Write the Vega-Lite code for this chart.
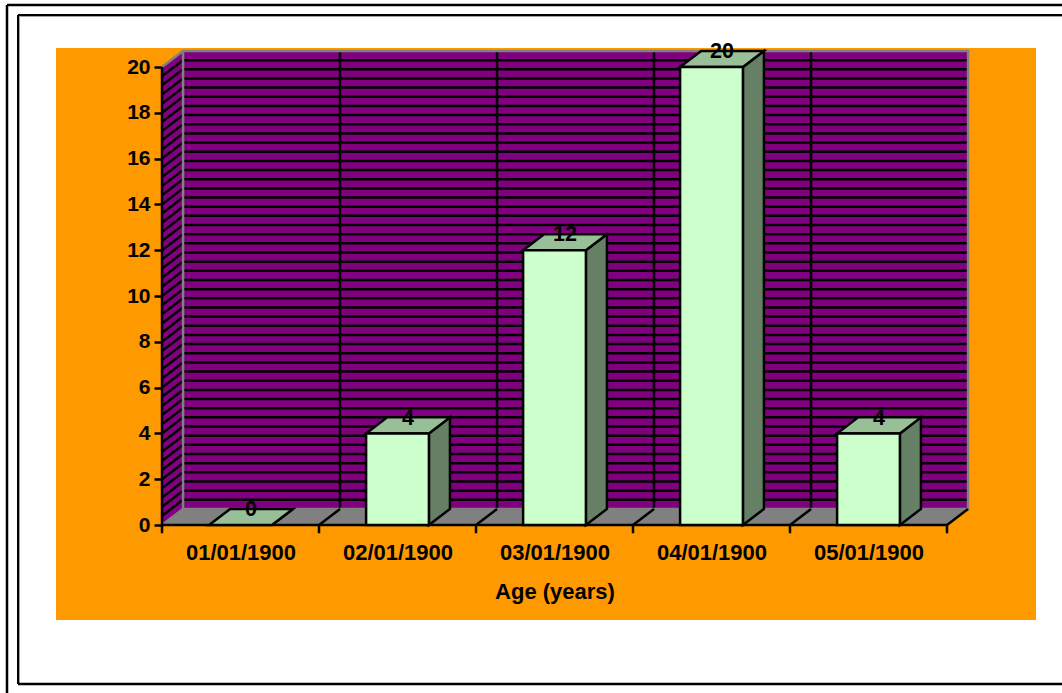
{
  "$schema": "https://vega.github.io/schema/vega-lite/v6.json",
  "width": 980,
  "height": 572,
  "autosize": "none",
  "padding": {"left": 56, "top": 48, "right": 26, "bottom": 73},
  "background": "#FFFFFF",
  "config": {"view": {"fill": "#FF9900", "stroke": null}},
  "datasets": {
    "bars": [
      {"category": "01/01/1900", "idx": 0, "count": 0},
      {"category": "02/01/1900", "idx": 1, "count": 4},
      {"category": "03/01/1900", "idx": 2, "count": 12},
      {"category": "04/01/1900", "idx": 3, "count": 20},
      {"category": "05/01/1900", "idx": 4, "count": 4}
    ],
    "boundaries": [{"b": 0}, {"b": 1}, {"b": 2}, {"b": 3}, {"b": 4}, {"b": 5}],
    "innerBoundaries": [{"b": 1}, {"b": 2}, {"b": 3}, {"b": 4}],
    "depthEnds": [{"s": 0}, {"s": 1}],
    "levels": [
      {"v": 0.4}, {"v": 0.8}, {"v": 1.2}, {"v": 1.6}, {"v": 2.0}, {"v": 2.4}, {"v": 2.8}, {"v": 3.2}, {"v": 3.6}, {"v": 4.0},
      {"v": 4.4}, {"v": 4.8}, {"v": 5.2}, {"v": 5.6}, {"v": 6.0}, {"v": 6.4}, {"v": 6.8}, {"v": 7.2}, {"v": 7.6}, {"v": 8.0},
      {"v": 8.4}, {"v": 8.8}, {"v": 9.2}, {"v": 9.6}, {"v": 10.0}, {"v": 10.4}, {"v": 10.8}, {"v": 11.2}, {"v": 11.6}, {"v": 12.0},
      {"v": 12.4}, {"v": 12.8}, {"v": 13.2}, {"v": 13.6}, {"v": 14.0}, {"v": 14.4}, {"v": 14.8}, {"v": 15.2}, {"v": 15.6}, {"v": 16.0},
      {"v": 16.4}, {"v": 16.8}, {"v": 17.2}, {"v": 17.6}, {"v": 18.0}, {"v": 18.4}, {"v": 18.8}, {"v": 19.2}, {"v": 19.6}
    ]
  },
  "layer": [
    {
      "description": "Left side wall of the chart box",
      "data": {"name": "depthEnds"},
      "transform": [
        {"calculate": "datum.s * 0.134", "as": "x"},
        {"calculate": "datum.s * 0.7", "as": "lo"},
        {"calculate": "20 + datum.s * 0.7", "as": "hi"}
      ],
      "mark": {"type": "area", "orient": "vertical", "fill": "#800080"},
      "encoding": {
        "x": {"field": "x", "type": "quantitative", "scale": {"domain": [-0.6752, 5.5669]}},
        "y": {"field": "lo", "type": "quantitative", "scale": {"domain": [-4.1485, 20.83]}},
        "y2": {"field": "hi"}
      }
    },
    {
      "description": "Floor of the chart box",
      "data": {"name": "depthEnds"},
      "transform": [
        {"calculate": "datum.s * 0.134", "as": "x"},
        {"calculate": "5 + datum.s * 0.134", "as": "xEnd"},
        {"calculate": "datum.s * 0.7", "as": "y"}
      ],
      "mark": {"type": "area", "orient": "horizontal", "fill": "#808080"},
      "encoding": {
        "y": {"field": "y", "type": "quantitative", "scale": {"domain": [-4.1485, 20.83]}},
        "x": {"field": "x", "type": "quantitative", "scale": {"domain": [-0.6752, 5.5669]}},
        "x2": {"field": "xEnd"}
      }
    },
    {
      "description": "Back wall",
      "data": {"values": [{}]},
      "mark": {"type": "rect", "fill": "#800080"},
      "encoding": {
        "x": {"datum": 0.134, "type": "quantitative", "scale": {"domain": [-0.6752, 5.5669]}},
        "x2": {"datum": 5.134},
        "y": {"datum": 0.7, "type": "quantitative", "scale": {"domain": [-4.1485, 20.83]}},
        "y2": {"datum": 20.7}
      }
    },
    {
      "description": "Horizontal gridlines on the back wall",
      "data": {"name": "levels"},
      "transform": [{"calculate": "datum.v + 0.7", "as": "wallY"}],
      "mark": {"type": "rule", "color": "#000000", "strokeWidth": 2.5},
      "encoding": {
        "x": {"datum": 0.134, "type": "quantitative", "scale": {"domain": [-0.6752, 5.5669]}},
        "x2": {"datum": 5.134},
        "y": {"field": "wallY", "type": "quantitative", "scale": {"domain": [-4.1485, 20.83]}}
      }
    },
    {
      "description": "Gridlines continued across the side wall",
      "data": {"name": "levels"},
      "transform": [{"calculate": "datum.v + 0.7", "as": "wallY"}],
      "mark": {"type": "rule", "color": "#000000", "strokeWidth": 2.5},
      "encoding": {
        "x": {"datum": 0, "type": "quantitative", "scale": {"domain": [-0.6752, 5.5669]}},
        "x2": {"datum": 0.134},
        "y": {"field": "v", "type": "quantitative", "scale": {"domain": [-4.1485, 20.83]}},
        "y2": {"field": "wallY"}
      }
    },
    {
      "description": "Category gridlines on the back wall",
      "data": {"name": "innerBoundaries"},
      "transform": [{"calculate": "datum.b + 0.134", "as": "wallX"}],
      "mark": {"type": "rule", "color": "#000000", "strokeWidth": 2.5},
      "encoding": {
        "x": {"field": "wallX", "type": "quantitative", "scale": {"domain": [-0.6752, 5.5669]}},
        "y": {"datum": 0.7, "type": "quantitative", "scale": {"domain": [-4.1485, 20.83]}},
        "y2": {"datum": 20.7}
      }
    },
    {
      "description": "Grey outline of the back wall",
      "data": {"values": [{}]},
      "mark": {"type": "rect", "fillOpacity": 0, "stroke": "#808080", "strokeWidth": 2.5},
      "encoding": {
        "x": {"datum": 0.134, "type": "quantitative", "scale": {"domain": [-0.6752, 5.5669]}},
        "x2": {"datum": 5.134},
        "y": {"datum": 0.7, "type": "quantitative", "scale": {"domain": [-4.1485, 20.83]}},
        "y2": {"datum": 20.7}
      }
    },
    {
      "description": "Grey receding edge at the top of the side wall",
      "data": {"values": [{}]},
      "mark": {"type": "rule", "color": "#808080", "strokeWidth": 2.5},
      "encoding": {
        "x": {"datum": 0, "type": "quantitative", "scale": {"domain": [-0.6752, 5.5669]}},
        "x2": {"datum": 0.134},
        "y": {"datum": 20, "type": "quantitative", "scale": {"domain": [-4.1485, 20.83]}},
        "y2": {"datum": 20.7}
      }
    },
    {
      "description": "Grey receding edge at the bottom of the side wall",
      "data": {"values": [{}]},
      "mark": {"type": "rule", "color": "#808080", "strokeWidth": 2.5},
      "encoding": {
        "x": {"datum": 0, "type": "quantitative", "scale": {"domain": [-0.6752, 5.5669]}},
        "x2": {"datum": 0.134},
        "y": {"datum": 0, "type": "quantitative", "scale": {"domain": [-4.1485, 20.83]}},
        "y2": {"datum": 0.7}
      }
    },
    {
      "description": "Black receding floor lines at the category boundaries",
      "data": {"name": "boundaries"},
      "transform": [
        {"filter": "datum.b > 0"},
        {"calculate": "datum.b + 0.134", "as": "backX"}
      ],
      "mark": {"type": "rule", "color": "#000000", "strokeWidth": 2.5},
      "encoding": {
        "x": {"field": "b", "type": "quantitative", "scale": {"domain": [-0.6752, 5.5669]}},
        "x2": {"field": "backX"},
        "y": {"datum": 0, "type": "quantitative", "scale": {"domain": [-4.1485, 20.83]}},
        "y2": {"datum": 0.7}
      }
    },
    {
      "description": "Tick marks along the category axis",
      "data": {"name": "boundaries"},
      "mark": {"type": "rule", "color": "#000000", "strokeWidth": 2.5},
      "encoding": {
        "x": {"field": "b", "type": "quantitative", "scale": {"domain": [-0.6752, 5.5669]}},
        "y": {"datum": 0, "type": "quantitative", "scale": {"domain": [-4.1485, 20.83]}},
        "y2": {"datum": -0.36}
      }
    },
    {
      "description": "Front edge of the floor",
      "data": {"values": [{}]},
      "mark": {"type": "rule", "color": "#000000", "strokeWidth": 2.5},
      "encoding": {
        "x": {"datum": 0, "type": "quantitative", "scale": {"domain": [-0.6752, 5.5669]}},
        "x2": {"datum": 5},
        "y": {"datum": 0, "type": "quantitative", "scale": {"domain": [-4.1485, 20.83]}}
      }
    },
    {
      "description": "Value axis line",
      "data": {"values": [{}]},
      "mark": {"type": "rule", "color": "#000000", "strokeWidth": 2.5},
      "encoding": {
        "x": {"datum": 0, "type": "quantitative", "scale": {"domain": [-0.6752, 5.5669]}},
        "y": {"datum": 0, "type": "quantitative", "scale": {"domain": [-4.1485, 20.83]}},
        "y2": {"datum": 20}
      }
    },
    {
      "description": "Right-hand side face of each bar",
      "data": {"name": "bars"},
      "transform": [
        {"calculate": "[0, 1]", "as": "s"},
        {"flatten": ["s"]},
        {"calculate": "datum.idx + 0.7 + datum.s * 0.134", "as": "x"},
        {"calculate": "datum.s * 0.7", "as": "lo"},
        {"calculate": "datum.count + datum.s * 0.7", "as": "hi"}
      ],
      "mark": {"type": "area", "orient": "vertical", "fill": "#668066", "stroke": "#000000", "strokeWidth": 2.5},
      "encoding": {
        "detail": {"field": "category"},
        "x": {"field": "x", "type": "quantitative", "scale": {"domain": [-0.6752, 5.5669]}},
        "y": {"field": "lo", "type": "quantitative", "scale": {"domain": [-4.1485, 20.83]}},
        "y2": {"field": "hi"}
      }
    },
    {
      "description": "Top face of each bar",
      "data": {"name": "bars"},
      "transform": [
        {"calculate": "[0, 1]", "as": "s"},
        {"flatten": ["s"]},
        {"calculate": "datum.idx + 0.3 + datum.s * 0.134", "as": "x"},
        {"calculate": "datum.idx + 0.7 + datum.s * 0.134", "as": "xEnd"},
        {"calculate": "datum.count + datum.s * 0.7", "as": "y"}
      ],
      "mark": {"type": "area", "orient": "horizontal", "fill": "#99BF99", "stroke": "#000000", "strokeWidth": 2.5},
      "encoding": {
        "detail": {"field": "category"},
        "y": {"field": "y", "type": "quantitative", "scale": {"domain": [-4.1485, 20.83]}},
        "x": {"field": "x", "type": "quantitative", "scale": {"domain": [-0.6752, 5.5669]}},
        "x2": {"field": "xEnd"}
      }
    },
    {
      "description": "Front face of each bar; this layer sets up both axes",
      "data": {"name": "bars"},
      "transform": [
        {"filter": "datum.count > 0"},
        {"calculate": "datum.idx + 0.3", "as": "x"},
        {"calculate": "datum.idx + 0.7", "as": "xEnd"}
      ],
      "mark": {"type": "rect", "fill": "#CCFFCC", "stroke": "#000000", "strokeWidth": 2.5},
      "encoding": {
        "x": {
          "field": "x",
          "type": "quantitative",
          "scale": {"domain": [-0.6752, 5.5669]},
          "axis": {
            "orient": "bottom",
            "offset": -95,
            "values": [0.5, 1.5, 2.5, 3.5, 4.5],
            "labelExpr": "['01/01/1900', '02/01/1900', '03/01/1900', '04/01/1900', '05/01/1900'][round(datum.value - 0.5)]",
            "ticks": false,
            "domain": false,
            "grid": false,
            "labelFont": "Liberation Sans",
            "labelFontSize": 22,
            "labelFontWeight": "bold",
            "labelColor": "#000000",
            "labelPadding": 17,
            "labelOverlap": false,
            "labelFlush": false,
            "title": "Age (years)",
            "titleFont": "Liberation Sans",
            "titleFontSize": 22,
            "titleFontWeight": "bold",
            "titleColor": "#000000",
            "titleBaseline": "middle",
            "titleX": 498.5,
            "titleY": 66
          }
        },
        "x2": {"field": "xEnd"},
        "y": {
          "field": "count",
          "type": "quantitative",
          "scale": {"domain": [-4.1485, 20.83]},
          "axis": {
            "orient": "left",
            "offset": -106,
            "values": [0, 2, 4, 6, 8, 10, 12, 14, 16, 18, 20],
            "domain": false,
            "grid": false,
            "tickColor": "#000000",
            "tickWidth": 2.5,
            "tickSize": 8,
            "labelFont": "Liberation Sans",
            "labelFontSize": 21,
            "labelFontWeight": "bold",
            "labelColor": "#000000",
            "labelPadding": 4,
            "title": null
          }
        },
        "y2": {"datum": 0}
      }
    },
    {
      "description": "Value labels sitting on the back edge of each bar top",
      "data": {"name": "bars"},
      "transform": [
        {"calculate": "datum.idx + 0.5 + 0.067", "as": "labelX"},
        {"calculate": "datum.count + 0.65", "as": "labelY"}
      ],
      "mark": {"type": "text", "font": "Liberation Sans", "fontSize": 21.5, "fontWeight": "bold", "color": "#000000", "baseline": "middle", "align": "center"},
      "encoding": {
        "x": {"field": "labelX", "type": "quantitative", "scale": {"domain": [-0.6752, 5.5669]}},
        "y": {"field": "labelY", "type": "quantitative", "scale": {"domain": [-4.1485, 20.83]}},
        "text": {"field": "count", "type": "quantitative"}
      }
    },
    {
      "description": "Outer page frame, top edge",
      "data": {"values": [{}]},
      "mark": {"type": "rule", "color": "#000000", "strokeWidth": 2.5},
      "encoding": {
        "x": {"datum": -0.9873, "type": "quantitative", "scale": {"domain": [-0.6752, 5.5669]}},
        "x2": {"datum": 5.7325},
        "y": {"datum": 22.707, "type": "quantitative", "scale": {"domain": [-4.1485, 20.83]}}
      }
    },
    {
      "description": "Outer page frame, left edge",
      "data": {"values": [{}]},
      "mark": {"type": "rule", "color": "#000000", "strokeWidth": 2.5},
      "encoding": {
        "x": {"datum": -0.9873, "type": "quantitative", "scale": {"domain": [-0.6752, 5.5669]}},
        "y": {"datum": 22.707, "type": "quantitative", "scale": {"domain": [-4.1485, 20.83]}},
        "y2": {"datum": -7.336}
      }
    },
    {
      "description": "Inner frame, grey inner shadow along the top",
      "data": {"values": [{}]},
      "mark": {"type": "rule", "color": "#A0A0A0", "strokeWidth": 1},
      "encoding": {
        "x": {"datum": -0.9076, "type": "quantitative", "scale": {"domain": [-0.6752, 5.5669]}},
        "x2": {"datum": 5.7325},
        "y": {"datum": 22.205, "type": "quantitative", "scale": {"domain": [-4.1485, 20.83]}}
      }
    },
    {
      "description": "Inner frame, grey inner shadow along the left",
      "data": {"values": [{}]},
      "mark": {"type": "rule", "color": "#A0A0A0", "strokeWidth": 1},
      "encoding": {
        "x": {"datum": -0.9076, "type": "quantitative", "scale": {"domain": [-0.6752, 5.5669]}},
        "y": {"datum": 22.205, "type": "quantitative", "scale": {"domain": [-4.1485, 20.83]}},
        "y2": {"datum": -6.943}
      }
    },
    {
      "description": "Inner frame, top edge",
      "data": {"values": [{}]},
      "mark": {"type": "rule", "color": "#000000", "strokeWidth": 2},
      "encoding": {
        "x": {"datum": -0.9172, "type": "quantitative", "scale": {"domain": [-0.6752, 5.5669]}},
        "x2": {"datum": 5.7325},
        "y": {"datum": 22.271, "type": "quantitative", "scale": {"domain": [-4.1485, 20.83]}}
      }
    },
    {
      "description": "Inner frame, left edge",
      "data": {"values": [{}]},
      "mark": {"type": "rule", "color": "#000000", "strokeWidth": 2},
      "encoding": {
        "x": {"datum": -0.9172, "type": "quantitative", "scale": {"domain": [-0.6752, 5.5669]}},
        "y": {"datum": 22.271, "type": "quantitative", "scale": {"domain": [-4.1485, 20.83]}},
        "y2": {"datum": -6.943}
      }
    },
    {
      "description": "Inner frame, bottom edge",
      "data": {"values": [{}]},
      "mark": {"type": "rule", "color": "#000000", "strokeWidth": 2.5},
      "encoding": {
        "x": {"datum": -0.9172, "type": "quantitative", "scale": {"domain": [-0.6752, 5.5669]}},
        "x2": {"datum": 5.7325},
        "y": {"datum": -6.943, "type": "quantitative", "scale": {"domain": [-4.1485, 20.83]}}
      }
    }
  ]
}
